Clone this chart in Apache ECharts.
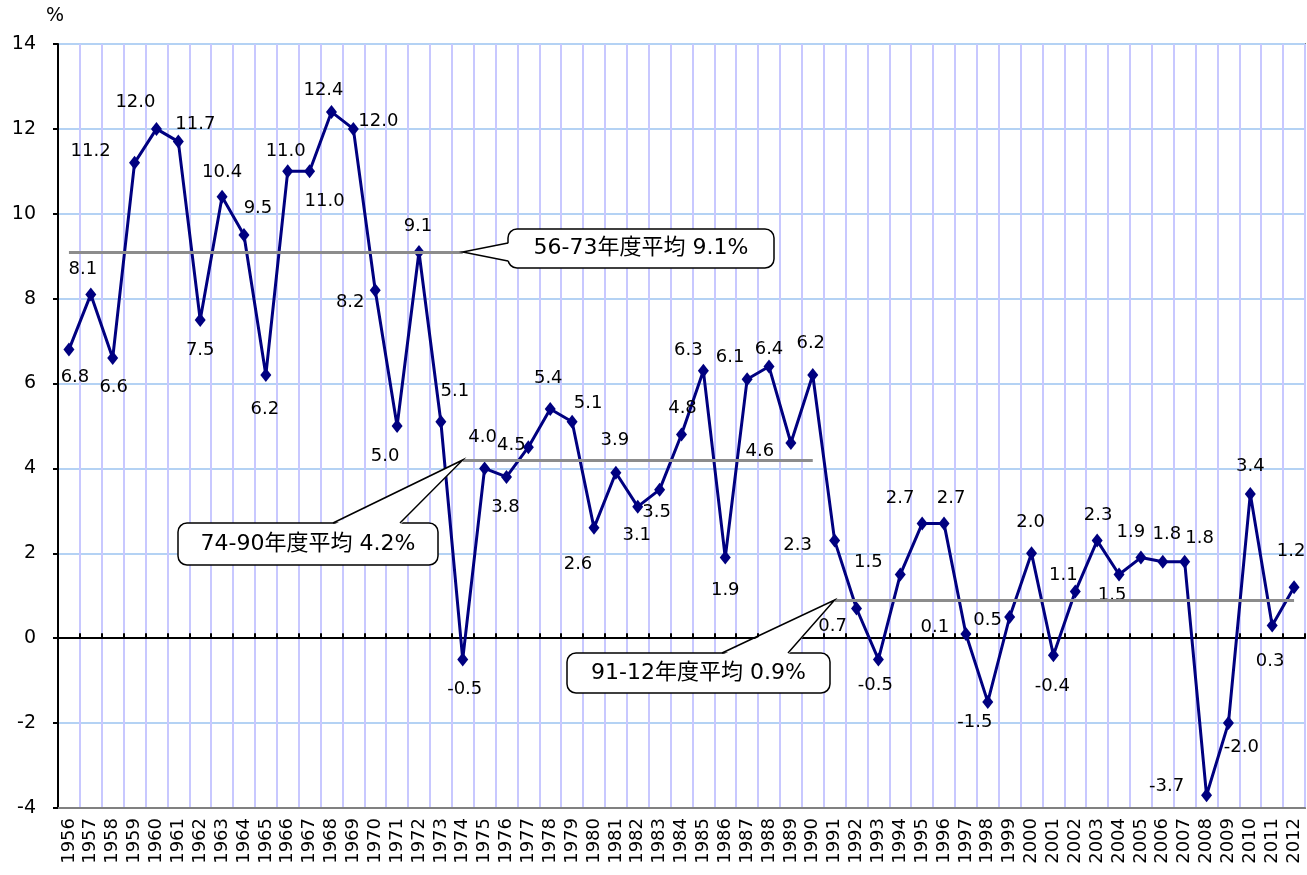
<!DOCTYPE html>
<html>
<head>
<meta charset="utf-8">
<title>実質GDP成長率</title>
<script src="https://cdn.jsdelivr.net/npm/echarts@6/dist/echarts.min.js"></script>
<style>
  html, body { margin: 0; padding: 0; background: #fff; }
  #main { width: 1307px; height: 875px; }
</style>
</head>
<body>
<div id="main"></div>
<script>
// 年度
const years = []
for (let y = 1956; y <= 2012; y++) years.push(String(y))

// 実質GDP成長率 (%)
const growth = [
  6.8, 8.1, 6.6, 11.2, 12.0, 11.7, 7.5, 10.4, 9.5, 6.2,
  11.0, 11.0, 12.4, 12.0, 8.2, 5.0, 9.1, 5.1, -0.5, 4.0,
  3.8, 4.5, 5.4, 5.1, 2.6, 3.9, 3.1, 3.5, 4.8, 6.3,
  1.9, 6.1, 6.4, 4.6, 6.2, 2.3, 0.7, -0.5, 1.5, 2.7,
  2.7, 0.1, -1.5, 0.5, 2.0, -0.4, 1.1, 2.3, 1.5, 1.9,
  1.8, 1.8, -3.7, -2.0, 3.4, 0.3, 1.2
]

// 期間平均 [開始年, 終了年, 平均値, 注記]
const periodAvg = [
  ['1956', '1974', 9.1, '56-73年度平均 9.1%'],
  ['1974', '1990', 4.2, '74-90年度平均 4.2%'],
  ['1991', '2012', 0.9, '91-12年度平均 0.9%']
]

// y軸
const yMin = -4
const yMax = 14
const yStep = 2

/* 数値ラベルのずらし量 [dx, dy]（見た目の調整用） */
const labelShift = {
  1956: [6, 28], 1957: [-8, -25], 1958: [1, 29], 1959: [-44, -12], 1960: [-21, -27],
  1961: [17, -17], 1962: [0, 30], 1963: [0, -24], 1964: [14, -27], 1965: [-1, 34],
  1966: [-2, -20], 1967: [15, 30], 1968: [-8, -22], 1969: [25, -8], 1970: [-25, 12],
  1971: [-12, 30], 1972: [-1, -26], 1973: [14, -30], 1974: [2, 30], 1975: [-2, -31],
  1976: [-1, 30], 1977: [-17, -2], 1978: [-2, -31], 1979: [16, -18], 1980: [-16, 36],
  1981: [-1, -32], 1982: [-1, 29], 1983: [-3, 23], 1984: [1, -26], 1985: [-15, -20],
  1986: [0, 33], 1987: [-17, -22], 1988: [0, -17], 1989: [-31, 8], 1990: [-2, -32],
  1991: [-37, 5], 1992: [-24, 18], 1993: [-3, 26], 1994: [-32, -12], 1995: [-22, -25],
  1996: [7, -25], 1997: [-31, -7], 1998: [-13, 20], 1999: [-22, 3], 2000: [-1, -31],
  2001: [-1, 31], 2002: [-12, -16], 2003: [1, -25], 2004: [-7, 21], 2005: [-10, -25],
  2006: [4, -27], 2007: [15, -23], 2008: [-40, -9], 2009: [13, 24], 2010: [0, -28],
  2011: [-2, 36], 2012: [-3, -36]
}

const font = 'DejaVu Sans'
const symbolSize = [11, 14]

const chart = echarts.init(document.getElementById('main'))

chart.setOption({
  animation: false,
  backgroundColor: '#fff',
  textStyle: { fontFamily: font },
  grid: {
    left: 58,
    right: 2,
    top: 44,
    bottom: 67,
    show: true,
    borderColor: '#808080',
    borderWidth: 2
  },
  xAxis: [
    {
      type: 'category',
      data: years,
      boundaryGap: true,
      position: 'bottom',
      axisLine: { onZero: false, lineStyle: { color: '#808080', width: 2 } },
      axisTick: { show: false },
      axisLabel: { rotate: 90, interval: 0, fontSize: 18, color: '#000', margin: 10, fontFamily: font },
      splitLine: { show: true, interval: 0, lineStyle: { color: '#c8c8ff', width: 2 } }
    },
    {
      type: 'category',
      data: years,
      boundaryGap: true,
      position: 'bottom',
      axisLine: { onZero: true, lineStyle: { color: '#000', width: 2 } },
      axisTick: { show: true, inside: true, length: 5, interval: 0, lineStyle: { color: '#000', width: 2 } },
      axisLabel: { show: false },
      splitLine: { show: false }
    }
  ],
  yAxis: {
    type: 'value',
    min: yMin,
    max: yMax,
    interval: yStep,
    name: '%',
    nameLocation: 'end',
    nameGap: 18,
    nameTextStyle: { fontSize: 19, color: '#000', align: 'center', padding: [0, 6, 0, 0], fontFamily: font },
    axisLine: { show: true, lineStyle: { color: '#000', width: 2 } },
    axisTick: { show: true, length: 5, lineStyle: { color: '#000', width: 2 } },
    axisLabel: { fontSize: 19, color: '#000', margin: 22, fontFamily: font },
    splitLine: { show: true, lineStyle: { color: '#b4d2f4', width: 2 } }
  },
  series: [
    /* 期間平均線 */
    {
      type: 'line',
      data: [],
      z: 1,
      markLine: {
        silent: true,
        symbol: 'none',
        label: { show: false },
        lineStyle: { color: '#8c8c8c', width: 3, type: 'solid' },
        data: periodAvg.map(p => [
          { coord: [p[0], p[2]] },
          { coord: [p[1], p[2]] }
        ])
      }
    },
    /* 成長率 */
    {
      name: '実質GDP成長率',
      type: 'line',
      z: 3,
      data: growth.map((v, i) => {
        const s = labelShift[years[i]]
        return {
          value: v,
          label: { position: [symbolSize[0] / 2 + s[0], symbolSize[1] / 2 + s[1]] }
        }
      }),
      symbol: 'diamond',
      symbolSize: symbolSize,
      itemStyle: { color: '#000080' },
      lineStyle: { color: '#000080', width: 3 },
      label: {
        show: true,
        align: 'center',
        verticalAlign: 'middle',
        fontSize: 18,
        color: '#000',
        fontFamily: font,
        formatter: p => p.value.toFixed(1)
      },
      labelLayout: { hideOverlap: false }
    }
  ]
})

/* 吹き出し（注記） */
const boxes = [
  { x: 508, y: 229, w: 266, h: 39, base: [[508, 243], [508, 261]] },
  { x: 178, y: 523, w: 260, h: 42, base: [[333, 523], [400, 523]] },
  { x: 567, y: 653, w: 263, h: 40, base: [[722, 653], [788, 653]] }
]

const graphics = []
periodAvg.forEach((p, i) => {
  const b = boxes[i]
  const tipCoord = i === 0 ? p[1] : p[0]
  const tip = chart.convertToPixel({ xAxisIndex: 0, yAxisIndex: 0 }, [tipCoord, p[2]])
  const isLeft = b.base[0][0] === b.base[1][0]
  const inset = isLeft ? [2, 0] : [0, 2]
  graphics.push({
    type: 'rect',
    z: 100,
    shape: { x: b.x, y: b.y, width: b.w, height: b.h, r: 9 },
    style: { fill: '#fff', stroke: '#000', lineWidth: 1.5 }
  })
  graphics.push({
    type: 'polygon',
    z: 101,
    shape: {
      points: [
        [b.base[0][0] + inset[0], b.base[0][1] + inset[1]],
        tip,
        [b.base[1][0] + inset[0], b.base[1][1] + inset[1]]
      ]
    },
    style: { fill: '#fff', stroke: null }
  })
  graphics.push({
    type: 'polyline',
    z: 102,
    shape: { points: [b.base[0], tip, b.base[1]] },
    style: { stroke: '#000', lineWidth: 1.5, fill: null }
  })
  graphics.push({
    type: 'text',
    z: 103,
    style: {
      x: b.x + b.w / 2,
      y: b.y + b.h / 2,
      text: p[3],
      align: 'center',
      verticalAlign: 'middle',
      fontSize: 22,
      fill: '#000',
      fontFamily: 'DejaVu Sans, Noto Sans CJK JP'
    }
  })
})

chart.setOption({ graphic: graphics })
</script>
</body>
</html>
